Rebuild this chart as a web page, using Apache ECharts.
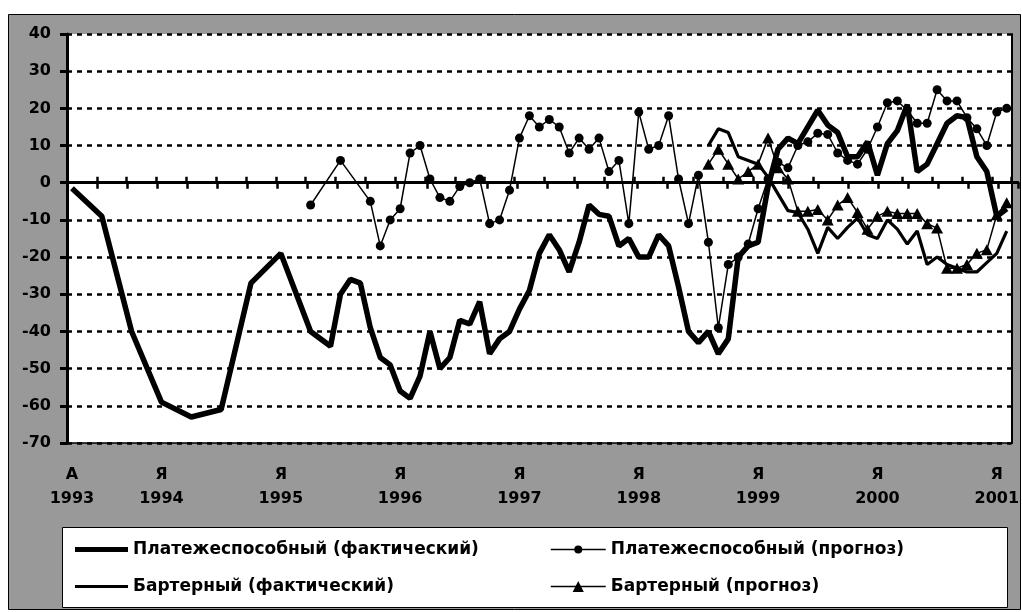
<!DOCTYPE html>
<html>
<head>
<meta charset="utf-8">
<title>Платежеспособный и бартерный спрос</title>
<script src="https://cdn.jsdelivr.net/npm/echarts@6/dist/echarts.min.js"></script>
<style>
  html, body { margin: 0; padding: 0; background: #fff; }
  #chart { width: 1022px; height: 612px; }
</style>
</head>
<body>
<div id="chart"></div>
<script>
// месяцы: апрель 1993 - февраль 2001
var months = [];
for (var y = 1993; y <= 2001; y++) {
  for (var m = 1; m <= 12; m++) {
    if (y === 1993 && m < 4) continue;
    if (y === 2001 && m > 2) continue;
    months.push(y + '-' + (m < 10 ? '0' + m : m));
  }
}

// подписи оси X
var tickLabels = {
  '1993-04': 'А\n1993', '1994-01': 'Я\n1994', '1995-01': 'Я\n1995',
  '1996-01': 'Я\n1996', '1997-01': 'Я\n1997', '1998-01': 'Я\n1998',
  '1999-01': 'Я\n1999', '2000-01': 'Я\n2000', '2001-01': 'Я\n2001'
};

// Платежеспособный (фактический), с апреля 1993
var solventFact = [
  -1.5, null, null, -9, null, null, -40, null, null, -59,
  null, null, -63, null, null, -61, null, null, -27, null,
  null, -19, null, null, -40, null, -44, -30, -26, -27,
  -39, -47, -49, -56, -58, -52, -40, -50, -47, -37,
  -38, -32, -46, -42, -40, -34, -29, -19, -14, -18,
  -24, -16, -6, -8.5, -9, -17, -15, -20, -20, -14,
  -17, -28, -40, -43, -40, -46, -42, -20, -17, -16,
  -1, 9, 12, 10.5, 15, 19.5, 15.5, 13.5, 7, 7,
  11, 2, 10.5, 14, 21, 3, 5, 10.5, 16, 18,
  17.5, 7, 3, -9, -7
];

// Платежеспособный (прогноз), с апреля 1995
var solventFcStart = '1995-04';
var solventFc = [
  -6, null, null, 6, null, null, -5, -17, -10, -7,
  8, 10, 1, -4, -5, -1, 0, 1, -11, -10,
  -2, 12, 18, 15, 17, 15, 8, 12, 9, 12,
  3, 6, -11, 19, 9, 10, 18, 1, -11, 2,
  -16, -39, -22, -20, -16.5, -7, 1, 5.5, 4, 10,
  11, 13.3, 13, 8, 6, 5, 9, 15, 21.5, 22,
  19.5, 16, 16, 25, 22, 22, 17.5, 14.5, 10, 19,
  20
];

// Бартерный (фактический), с августа 1998
var barterFactStart = '1998-08';
var barterFact = [
  10, 14.5, 13.5, 7, 6, 5, 1.5, -3, -7.5, -8,
  -12.5, -19, -12, -15, -12, -9.5, -14, -15, -10, -12.5,
  -16.5, -13, -22, -20, -22, -23, -24, -24, -21.5, -19,
  -13
];

// Бартерный (прогноз), с августа 1998
var barterFcStart = '1998-08';
var barterFc = [
  5, 9, 5, 1, 3, 5, 12, 4, 1, -7.7,
  -7.7, -7.2, -10, -6, -4, -8, -12.5, -9, -7.7, -8.3,
  -8.3, -8.3, -11, -12.2, -23, -23, -22, -19, -18, -8.6,
  -5.4
];

function fromMonth(start, values) {
  var off = months.indexOf(start);
  return months.map(function (mm, i) {
    var k = i - off;
    return k >= 0 && k < values.length ? values[k] : null;
  });
}

var FONT = 'DejaVu Sans';
var txt = { fontFamily: FONT, fontWeight: 'bold', fontSize: 16, color: '#000' };
var legendText = { fontFamily: FONT, fontWeight: 'bold', fontSize: 17, color: '#000' };

var chart = echarts.init(document.getElementById('chart'));
var option = {
  animation: false,
  backgroundColor: '#fff',
  graphic: [
    { type: 'rect', z: -10, silent: true,
      shape: { x: 8.5, y: 14.5, width: 1012, height: 595 },
      style: { fill: '#999999', stroke: '#000', lineWidth: 1 } },
    { type: 'rect', z: -9, silent: true,
      shape: { x: 62.5, y: 527.5, width: 945, height: 80 },
      style: { fill: '#fff', stroke: '#000', lineWidth: 1 } }
  ],
  grid: [
    { left: 67, right: 4, top: 34, bottom: 169, show: true, backgroundColor: '#fff', borderWidth: 0 },
    { left: 67, right: 4, top: 34, bottom: 169, show: false }
  ],
  legend: [
    { data: ['Платежеспособный (фактический)'], left: 75, top: 541, padding: 0,
      icon: 'rect', itemWidth: 53, itemHeight: 5, selectedMode: false, textStyle: legendText },
    { data: ['Платежеспособный (прогноз)'], left: 550, top: 541, padding: 0,
      itemWidth: 55, itemHeight: 10, selectedMode: false, lineStyle: { width: 1.5 }, textStyle: legendText },
    { data: ['Бартерный (фактический)'], left: 75, top: 578, padding: 0,
      icon: 'rect', itemWidth: 53, itemHeight: 3, selectedMode: false, textStyle: legendText },
    { data: ['Бартерный (прогноз)'], left: 550, top: 578, padding: 0,
      itemWidth: 55, itemHeight: 14, selectedMode: false, lineStyle: { width: 1.5 }, textStyle: legendText }
  ],
  xAxis: [
    {
      type: 'category', data: months, gridIndex: 0, position: 'bottom', boundaryGap: true,
      axisLine: { show: true, onZero: false, lineStyle: { color: '#000', width: 1.5 } },
      axisTick: { show: false },
      axisLabel: Object.assign({
        interval: function (i) { return tickLabels[months[i]] !== undefined; },
        formatter: function (v) { return tickLabels[v] || ''; },
        lineHeight: 24, margin: 20
      }, txt),
      splitLine: { show: false }
    },
    {
      // нулевая линия, засечки вверх
      type: 'category', data: months, gridIndex: 0, position: 'top', boundaryGap: true,
      axisLine: { show: true, onZero: true, lineStyle: { color: '#000', width: 3 } },
      axisTick: { show: true, interval: 2, length: 6, lineStyle: { color: '#000', width: 2.5 } },
      axisLabel: { show: false },
      splitLine: { show: false }
    },
    {
      // засечки вниз
      type: 'category', data: months, gridIndex: 1, position: 'bottom', boundaryGap: true,
      axisLine: { show: true, onZero: true, lineStyle: { color: '#000', width: 3 } },
      axisTick: { show: true, interval: 2, length: 6, lineStyle: { color: '#000', width: 2.5 } },
      axisLabel: { show: false },
      splitLine: { show: false }
    }
  ],
  yAxis: [
    {
      type: 'value', gridIndex: 0, min: -70, max: 40, interval: 10, position: 'left',
      axisLine: { show: true, onZero: false, lineStyle: { color: '#000', width: 3 } },
      axisTick: { show: true, length: 7, lineStyle: { color: '#000', width: 3 } },
      axisLabel: Object.assign({ margin: 16 }, txt),
      splitLine: { show: true, lineStyle: { color: '#000', width: 2.5, type: [5, 5] } }
    },
    {
      type: 'value', gridIndex: 0, min: -70, max: 40, interval: 10, position: 'right',
      axisLine: { show: true, onZero: false, lineStyle: { color: '#000', width: 2 } },
      axisTick: { show: false }, axisLabel: { show: false }, splitLine: { show: false }
    },
    {
      type: 'value', gridIndex: 1, min: -70, max: 40, interval: 10,
      axisLine: { show: false }, axisTick: { show: false }, axisLabel: { show: false }, splitLine: { show: false }
    }
  ],
  series: [
    {
      name: 'Платежеспособный (фактический)', type: 'line', xAxisIndex: 0, yAxisIndex: 0,
      data: solventFact, connectNulls: true, symbol: 'none',
      lineStyle: { color: '#000', width: 5.5 }, itemStyle: { color: '#000' }
    },
    {
      name: 'Платежеспособный (прогноз)', type: 'line', xAxisIndex: 0, yAxisIndex: 0,
      data: fromMonth(solventFcStart, solventFc), connectNulls: true,
      symbol: 'circle', symbolSize: 9, showAllSymbol: true,
      lineStyle: { color: '#000', width: 1.5 }, itemStyle: { color: '#000' }
    },
    {
      name: 'Бартерный (фактический)', type: 'line', xAxisIndex: 0, yAxisIndex: 0,
      data: fromMonth(barterFactStart, barterFact), symbol: 'none',
      lineStyle: { color: '#000', width: 3.2 }, itemStyle: { color: '#000' }
    },
    {
      name: 'Бартерный (прогноз)', type: 'line', xAxisIndex: 0, yAxisIndex: 0,
      data: fromMonth(barterFcStart, barterFc),
      symbol: 'triangle', symbolSize: [12, 11], showAllSymbol: true,
      lineStyle: { color: '#000', width: 1.5 }, itemStyle: { color: '#000' }
    }
  ]
};
chart.setOption(option);
</script>
</body>
</html>
